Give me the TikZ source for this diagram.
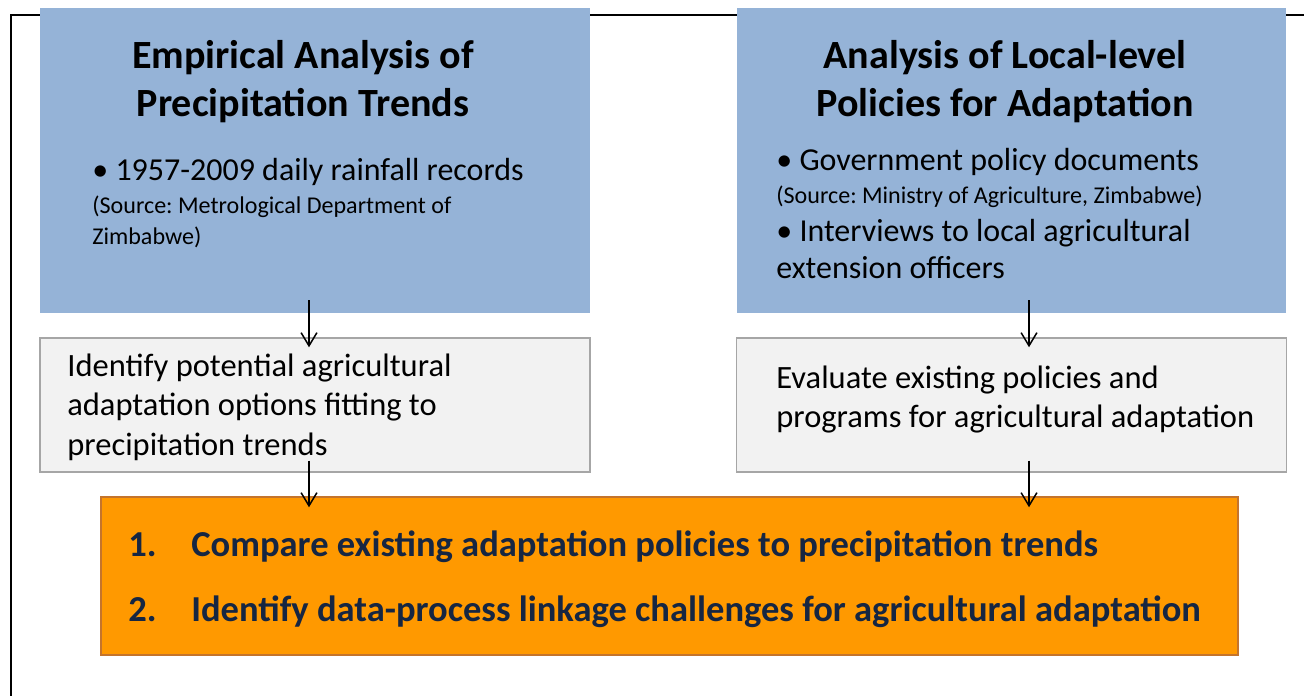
\documentclass[tikz,border=0pt]{standalone}
\usepackage{fontspec}
\setmainfont{Carlito}
\frenchspacing
\usepackage{tikz}
\usetikzlibrary{arrows.meta,shapes,positioning,calc}
\usepackage{xcolor}
\definecolor{dsblue}{RGB}{149,179,215}
\definecolor{dsgrey}{RGB}{242,242,242}
\definecolor{dsgreyline}{RGB}{166,166,166}
\definecolor{dsorange}{RGB}{255,153,0}
\definecolor{dsorangeline}{RGB}{196,116,44}
\definecolor{dsnavy}{RGB}{22,38,66}
\tikzstyle{arrow} = [line width=0.85pt,-{Straight Barb[length=7.5pt,width=9pt,line width=0.85pt]},color=black]
\tikzstyle{sourcebox} = [rectangle, minimum width=11cm, minimum height=6.1cm, fill=dsblue, inner sep=0pt]
\tikzstyle{stepbox} = [rectangle, minimum width=11cm, minimum height=2.68cm, fill=dsgrey, draw=dsgreyline, line width=0.85pt, inner sep=0pt]
\tikzstyle{goalbox} = [rectangle, minimum width=22.74cm, minimum height=3.16cm, fill=dsorange, draw=dsorangeline, line width=0.85pt, inner sep=0pt]
\tikzstyle{heading} = [anchor=base, align=center, inner sep=0pt, font=\fontsize{22.8pt}{27.3pt}\selectfont\bfseries]
\tikzstyle{body} = [anchor=base west, align=left, inner sep=0pt, font=\fontsize{18.2pt}{22.3pt}\selectfont]
\tikzstyle{source} = [anchor=base west, align=left, inner sep=0pt, font=\fontsize{13.7pt}{17.6pt}\selectfont]
\tikzstyle{goal} = [anchor=base west, inner sep=0pt, text=dsnavy, font=\fontsize{20.8pt}{25pt}\selectfont\bfseries]

\begin{document}
\begin{tikzpicture}[x=0.02cm, y=-0.02cm]
    \useasboundingbox (0,0) rectangle (1304,696);

    % Frame
    \draw[line width=1.1pt] (1304,15) -- (11,15) -- (11,696);

    % Precipitation trends (base of multi-line text = its last line)
    \node[sourcebox] (trends) at (315,160.5) {};
    \node[heading] (trends title) at (303,116) {Empirical Analysis of\\Precipitation Trends};
    \node[body] (trends data) at (92,180) {• 1957-2009 daily rainfall records};
    \node[source] (trends source) at (92,244) {(Source: Metrological Department of\\Zimbabwe)};

    % Local-level policies
    \node[sourcebox] (policies) at (1011.5,160.5) {};
    \node[heading] (policies title) at (1005,116) {Analysis of Local-level\\Policies for Adaptation};
    \node[body] (policies docs) at (776,170) {• Government policy documents};
    \node[source] (policies source) at (776,203) {(Source: Ministry of Agriculture, Zimbabwe)};
    \node[body, font=\fontsize{18.2pt}{21pt}\selectfont] (policies talks) at (776,278) {• Interviews to local agricultural\\extension officers};

    % Intermediate steps
    \node[stepbox] (options) at (315,405) {};
    \node[body, font=\fontsize{18.5pt}{22.4pt}\selectfont] (options text) at (67,455) {Identify potential agricultural\\adaptation options fitting to\\precipitation trends};
    \node[stepbox] (evaluate) at (1011.5,405) {};
    \node[body, font=\fontsize{18.5pt}{22.2pt}\selectfont] (evaluate text) at (776,427) {Evaluate existing policies and\\programs for agricultural adaptation};

    % Result
    \node[goalbox] (compare) at (669.5,576) {};
    \node[goal] (compare one) at (128,556) {\makebox[1.26cm][l]{1.}Compare existing adaptation policies to precipitation trends};
    \node[goal] (compare two) at (128,621) {\makebox[1.26cm][l]{2.}Identify data-process linkage challenges for agricultural adaptation};

    % Arrows
    \draw[arrow] ($(trends.south)+(-6,-13)$) -- ($(options.north)+(-6,10)$);
    \draw[arrow] ($(options.south)+(-6,-12)$) -- ($(options.south |- compare.north)+(-6,11)$);
    \draw[arrow] ($(policies.south)+(17.5,-13)$) -- ($(evaluate.north)+(17.5,10)$);
    \draw[arrow] ($(evaluate.south)+(17.5,-12)$) -- ($(evaluate.south |- compare.north)+(17.5,11)$);
\end{tikzpicture}
\end{document}
